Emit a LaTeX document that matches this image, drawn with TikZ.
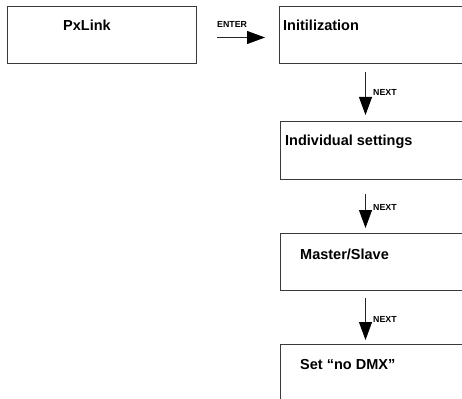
\documentclass[tikz,border=0pt]{standalone}
\usepackage{fontspec}
\setmainfont{Liberation Sans}
\usetikzlibrary{arrows.meta}
\definecolor{frame}{HTML}{3A3A3A}
\begin{document}
\begin{tikzpicture}[x=1pt,y=-1pt,
  box/.style={draw=frame,line width=1pt,anchor=north west,
    minimum width=191pt,minimum height=57pt,inner sep=0pt,outer sep=0pt},
  title/.style={anchor=base west,inner sep=0pt,
    font=\fontsize{14.5}{17}\selectfont\bfseries},
  tag/.style={anchor=base west,inner sep=0pt,
    font=\fontsize{8.8}{10}\selectfont\bfseries},
  arr/.style={draw=black!85,line width=0.9pt,
    -{Triangle[length=18pt,width=13pt,color=black]}}]
\useasboundingbox (0,0) rectangle (462,398);
\clip (0,0) rectangle (462,398);

% menu boxes
\node[box,minimum width=189pt] (pxlink) at (7,7) {};
\node[box] (init)   at (279,7)   {};
\node[box] (indiv)  at (280,122) {};
\node[box] (master) at (280,233) {};
\node[box] (nodmx)  at (280,344) {};

% box captions
\node[title] (tpx)  at (63,31)   {PxLink};
\node[title] (tin)  at (283,31)  {Initilization};
\node[title] (tid)  at (285,146) {Individual settings};
\node[title] (tms)  at (300,259) {Master/Slave};
\node[title] (tnd)  at (300,369) {Set “no DMX”};

% ENTER step
\draw[arr,shorten <=21pt,shorten >=14pt]
  ([yshift=-2pt]pxlink.east) -- ([yshift=-2pt]init.west);
\node[tag] (lenter) at (217,28) {ENTER};

% NEXT steps
\draw[arr,shorten <=8pt,shorten >=7pt]
  ([xshift=86.5pt]init.south west) -- ([xshift=85.5pt]indiv.north west);
\node[tag] (lnext1) at (373,96) {NEXT};
\draw[arr,shorten <=15pt,shorten >=5pt]
  ([xshift=85.5pt]indiv.south west) -- ([xshift=85.5pt]master.north west);
\node[tag] (lnext2) at (373,210) {NEXT};
\draw[arr,shorten <=8pt,shorten >=4pt]
  ([xshift=85.5pt]master.south west) -- ([xshift=85.5pt]nodmx.north west);
\node[tag] (lnext3) at (373,322) {NEXT};
\end{tikzpicture}
\end{document}
